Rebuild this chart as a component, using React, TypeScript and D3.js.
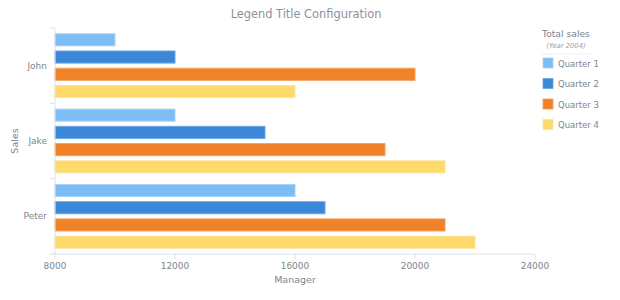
import React from "react";
import * as d3 from "d3";

const categories = ["John", "Jake", "Peter"];
const seriesNames = ["Quarter 1", "Quarter 2", "Quarter 3", "Quarter 4"];
const q1 = [10000, 12000, 16000];
const q2 = [12000, 15000, 17000];
const q3 = [20000, 19000, 21000];
const q4 = [16000, 21000, 22000];
const xTicks = [8000, 12000, 16000, 20000, 24000];
const colors = ["#7dbdf5", "#3b88d8", "#f08228", "#fed96c"];
const strokes = ["#a9d3f8", "#6aa6e3", "#f4a061", "#fee49a"];

const W = 620, H = 300;
const left = 55, right = 535, top = 28, bottom = 254;
const font = "DejaVu Sans, Verdana, sans-serif";

export default function App() {
  const series = [q1, q2, q3, q4];
  const x = d3.scaleLinear().domain([8000, 24000]).range([left, right]);
  const y0 = d3.scaleBand().domain(categories).range([top, bottom]).padding(0);
  const bw = y0.bandwidth();
  const y1 = d3
    .scaleBand()
    .domain(seriesNames)
    .range([bw * 0.065, bw * 0.935])
    .paddingInner(0.3)
    .paddingOuter(0.05);
  const gray = "#7c858d";
  const axisColor = "#dfe2e5";
  return (
    <svg width={W} height={H} style={{ position: "absolute", left: 0, top: 0 }} fontFamily={font}>
      <rect width={W} height={H} fill="#fff" />
      <text x={306} y={18} textAnchor="middle" fontSize={11.4} fill="#8a939b">
        Legend Title Configuration
      </text>
      {categories.map((c, ci) =>
        series.map((s, si) => (
          <rect
            key={c + si}
            x={x(8000)}
            y={(y0(c) as number) + (y1(seriesNames[si]) as number)}
            width={x(s[ci]) - x(8000)}
            height={y1.bandwidth()}
            fill={colors[si]}
            stroke={strokes[si]}
            strokeWidth={1}
          />
        ))
      )}
      {/* left axis */}
      <line x1={left} x2={left} y1={top} y2={bottom} stroke={axisColor} />
      {[...categories.map((c) => y0(c) as number), bottom].map((v, i) => (
        <line key={i} x1={left - 5} x2={left} y1={v} y2={v} stroke={axisColor} />
      ))}
      {categories.map((c) => (
        <text
          key={c}
          x={left - 8}
          y={(y0(c) as number) + bw / 2 + 3}
          textAnchor="end"
          fontSize={9}
          fill={gray}
        >
          {c}
        </text>
      ))}
      <text
        transform={`translate(18,${(top + bottom) / 2}) rotate(-90)`}
        textAnchor="middle"
        fontSize={9.5}
        fill={gray}
      >
        Sales
      </text>
      {/* bottom axis */}
      <line x1={left - 4} x2={right} y1={bottom} y2={bottom} stroke={axisColor} />
      {xTicks.map((t) => (
        <g key={t}>
          <line x1={x(t)} x2={x(t)} y1={bottom} y2={bottom + 5} stroke={axisColor} />
          <text x={x(t)} y={bottom + 15} textAnchor="middle" fontSize={9} fill={gray}>
            {t}
          </text>
        </g>
      ))}
      <text x={(left + right) / 2} y={bottom + 29} textAnchor="middle" fontSize={9.5} fill={gray}>
        Manager
      </text>
      {/* legend */}
      <text x={566} y={37} textAnchor="middle" fontSize={9.2} fill={gray}>
        Total sales
      </text>
      <text x={566} y={48} textAnchor="middle" fontSize={6.8} fontStyle="italic" fill="#9aa2a9">
        (Year 2004)
      </text>
      <line x1={541} x2={591} y1={54} y2={54} stroke="#eef0f2" />
      {seriesNames.map((n, i) => (
        <g key={n} transform={`translate(543,${58 + i * 20.5})`}>
          <rect width={10} height={10} fill={colors[i]} stroke={strokes[i]} strokeWidth={0.8} />
          <text x={15} y={8.5} fontSize={8.5} fill={gray}>
            {n}
          </text>
        </g>
      ))}
    </svg>
  );
}
